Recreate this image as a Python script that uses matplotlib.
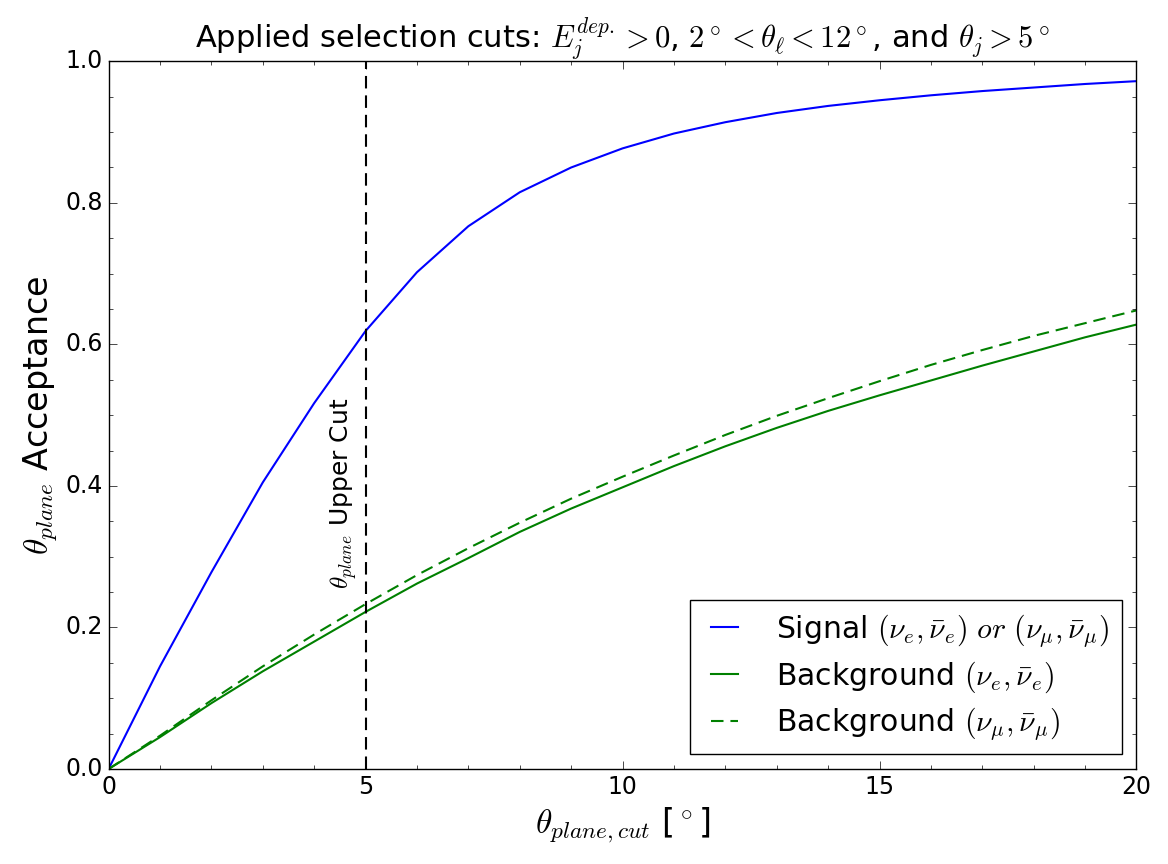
import numpy as np
import matplotlib
matplotlib.use("Agg")
import matplotlib.pyplot as plt
from matplotlib.ticker import AutoMinorLocator

plt.style.use('classic')
plt.rcParams['mathtext.fontset'] = 'cm'

# theta_plane cut values (degrees)
theta_cut = [0, 1, 2, 3, 4, 5, 6, 7, 8, 9, 10, 11, 12, 13, 14, 15, 16, 17, 18, 19, 20]

# acceptance curves
signal = [0.0, 0.145, 0.278, 0.405, 0.517, 0.619, 0.702, 0.767, 0.815, 0.850, 0.877,
          0.898, 0.914, 0.927, 0.937, 0.945, 0.952, 0.958, 0.963, 0.968, 0.972]
bkg_e = [0.0, 0.045, 0.093, 0.138, 0.180, 0.222, 0.262, 0.298, 0.335, 0.368, 0.398,
         0.428, 0.456, 0.482, 0.506, 0.528, 0.549, 0.570, 0.590, 0.610, 0.628]
bkg_mu = [0.0, 0.047, 0.097, 0.145, 0.190, 0.233, 0.274, 0.312, 0.348, 0.382, 0.413,
          0.443, 0.472, 0.499, 0.524, 0.548, 0.571, 0.592, 0.612, 0.630, 0.648]

cut_value = 5

fig, ax = plt.subplots(figsize=(11.68, 8.64), dpi=100)
fig.subplots_adjust(left=0.093, right=0.973, top=0.929, bottom=0.11)

dash = (9, 5)
ax.plot(theta_cut, signal, 'b-', lw=1.5,
        label=r'Signal $(\nu_e,\bar{\nu}_e)\ or\ (\nu_\mu,\bar{\nu}_\mu)$')
ax.plot(theta_cut, bkg_e, 'g-', lw=1.5, label=r'Background $(\nu_e,\bar{\nu}_e)$')
ax.plot(theta_cut, bkg_mu, 'g--', lw=1.5, dashes=dash,
        label=r'Background $(\nu_\mu,\bar{\nu}_\mu)$')

ax.axvline(cut_value, color='k', ls='--', lw=1.5, dashes=dash)
ax.text(cut_value - 0.12, 0.255, r'$\theta_{plane}$ Upper Cut', rotation=90,
        ha='right', va='bottom', fontsize=18)

ax.set_xlim(0, 20)
ax.set_ylim(0, 1)
ax.set_xticks([0, 5, 10, 15, 20])
ax.set_yticks([0.0, 0.2, 0.4, 0.6, 0.8, 1.0])
ax.xaxis.set_minor_locator(AutoMinorLocator(5))
ax.yaxis.set_minor_locator(AutoMinorLocator(4))
ax.tick_params(labelsize=17, which='major', length=6)
ax.tick_params(which='minor', length=3)

ax.set_xlabel(r'$\theta_{plane,cut}$ [$^\circ$]', fontsize=24)
ax.set_ylabel(r'$\theta_{plane}$ Acceptance', fontsize=24)
ax.set_title(r'Applied selection cuts: $E_j^{dep.}>0$, $2^\circ<\theta_\ell<12^\circ$, and $\theta_j>5^\circ$',
             fontsize=22, y=1.008)

ax.legend(loc='lower right', fontsize=21.5, handlelength=1.5, handletextpad=1.0,
          labelspacing=0.35, borderaxespad=0.5)

fig.savefig('out.png', dpi=100)
